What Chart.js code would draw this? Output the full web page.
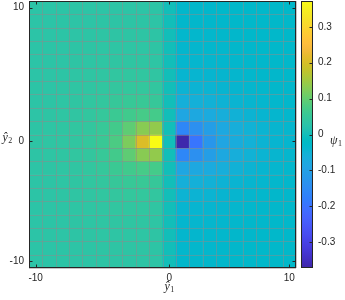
<!DOCTYPE html>
<html><head><meta charset="utf-8">
<script src="https://cdn.jsdelivr.net/npm/chart.js@4.4.0/dist/chart.umd.min.js"></script>
<style>html,body{margin:0;padding:0;background:#fff;}canvas{display:block;}</style>
</head><body>
<canvas id="c" width="345" height="300"></canvas>
<script>
// ---- data ----
const xTickIdx = [1, 11, 20];
const xTickLabels = ['-10', '0', '10'];
const yTickIdx = [1, 10, 20];
const yTickLabels = ['-10', '0', '10'];
const cbTicks = [-0.3, -0.2, -0.1, 0, 0.1, 0.2, 0.3];
const cbTickLabels = ['-0.3', '-0.2', '-0.1', '0', '0.1', '0.2', '0.3'];
const cLim = [-0.372, 0.372];
// psi_1 cell values, rows from top (y = 10) to bottom (y = -10), columns left to right
const psiRows = [
 [0.030,0.030,0.031,0.031,0.032,0.032,0.032,0.032,0.032,0.031, 0, -0.031,-0.031,-0.031,-0.030,-0.030,-0.029,-0.029,-0.028,-0.028],
 [0.030,0.030,0.031,0.032,0.032,0.033,0.033,0.033,0.033,0.032, 0, -0.032,-0.032,-0.032,-0.031,-0.030,-0.030,-0.029,-0.028,-0.028],
 [0.030,0.030,0.031,0.032,0.033,0.034,0.034,0.034,0.034,0.033, 0, -0.033,-0.033,-0.033,-0.032,-0.031,-0.030,-0.029,-0.029,-0.028],
 [0.030,0.031,0.032,0.033,0.034,0.035,0.035,0.035,0.035,0.034, 0, -0.035,-0.035,-0.034,-0.033,-0.032,-0.031,-0.030,-0.029,-0.029],
 [0.030,0.031,0.032,0.034,0.035,0.036,0.037,0.037,0.037,0.035, 0, -0.037,-0.037,-0.036,-0.035,-0.034,-0.032,-0.031,-0.030,-0.029],
 [0.030,0.032,0.033,0.035,0.036,0.038,0.040,0.040,0.040,0.038, 0, -0.041,-0.041,-0.040,-0.038,-0.036,-0.034,-0.032,-0.031,-0.030],
 [0.031,0.032,0.034,0.036,0.038,0.041,0.044,0.045,0.045,0.042, 0, -0.048,-0.047,-0.045,-0.042,-0.039,-0.036,-0.034,-0.032,-0.031],
 [0.031,0.033,0.035,0.037,0.040,0.044,0.050,0.053,0.054,0.050, 0, -0.060,-0.058,-0.054,-0.049,-0.044,-0.040,-0.037,-0.034,-0.032],
 [0.032,0.034,0.036,0.038,0.042,0.048,0.058,0.066,0.072,0.070, 0, -0.085,-0.080,-0.072,-0.062,-0.053,-0.046,-0.041,-0.037,-0.034],
 [0.033,0.035,0.037,0.040,0.044,0.052,0.068,0.095,0.130,0.138, 0, -0.160,-0.140,-0.105,-0.080,-0.063,-0.052,-0.045,-0.040,-0.036],
 [0.034,0.036,0.038,0.041,0.046,0.056,0.078,0.120,0.205,0.372, 0, -0.368,-0.195,-0.125,-0.088,-0.068,-0.055,-0.047,-0.041,-0.037],
 [0.033,0.035,0.037,0.040,0.044,0.052,0.068,0.095,0.130,0.138, 0, -0.160,-0.140,-0.105,-0.080,-0.063,-0.052,-0.045,-0.040,-0.036],
 [0.032,0.034,0.036,0.038,0.042,0.048,0.058,0.066,0.072,0.070, 0, -0.085,-0.080,-0.072,-0.062,-0.053,-0.046,-0.041,-0.037,-0.034],
 [0.031,0.033,0.035,0.037,0.040,0.044,0.050,0.053,0.054,0.050, 0, -0.060,-0.058,-0.054,-0.049,-0.044,-0.040,-0.037,-0.034,-0.032],
 [0.031,0.032,0.034,0.036,0.038,0.041,0.044,0.045,0.045,0.042, 0, -0.048,-0.047,-0.045,-0.042,-0.039,-0.036,-0.034,-0.032,-0.031],
 [0.030,0.032,0.033,0.035,0.036,0.038,0.040,0.040,0.040,0.038, 0, -0.041,-0.041,-0.040,-0.038,-0.036,-0.034,-0.032,-0.031,-0.030],
 [0.030,0.031,0.032,0.034,0.035,0.036,0.037,0.037,0.037,0.035, 0, -0.037,-0.037,-0.036,-0.035,-0.034,-0.032,-0.031,-0.030,-0.029],
 [0.030,0.031,0.032,0.033,0.034,0.035,0.035,0.035,0.035,0.034, 0, -0.035,-0.035,-0.034,-0.033,-0.032,-0.031,-0.030,-0.029,-0.029],
 [0.030,0.030,0.031,0.032,0.033,0.034,0.034,0.034,0.034,0.033, 0, -0.033,-0.033,-0.033,-0.032,-0.031,-0.030,-0.029,-0.029,-0.028],
 [0.030,0.030,0.031,0.032,0.032,0.033,0.033,0.033,0.033,0.032, 0, -0.032,-0.032,-0.032,-0.031,-0.030,-0.030,-0.029,-0.028,-0.028]
];

// ---- colormap (parula, 64 entries) ----
const parula = [
[0.2422,0.1504,0.6603],[0.2504,0.1650,0.7076],[0.2578,0.1818,0.7511],[0.2647,0.1978,0.7952],
[0.2706,0.2147,0.8364],[0.2751,0.2342,0.8710],[0.2783,0.2559,0.8991],[0.2803,0.2782,0.9221],
[0.2813,0.3006,0.9414],[0.2810,0.3228,0.9579],[0.2795,0.3447,0.9717],[0.2760,0.3667,0.9829],
[0.2699,0.3892,0.9906],[0.2602,0.4123,0.9952],[0.2440,0.4358,0.9988],[0.2206,0.4603,0.9973],
[0.1963,0.4847,0.9892],[0.1834,0.5074,0.9798],[0.1786,0.5289,0.9682],[0.1764,0.5499,0.9520],
[0.1687,0.5703,0.9359],[0.1540,0.5902,0.9218],[0.1460,0.6091,0.9079],[0.1380,0.6276,0.8973],
[0.1248,0.6459,0.8883],[0.1113,0.6635,0.8763],[0.0952,0.6798,0.8598],[0.0689,0.6948,0.8394],
[0.0297,0.7082,0.8163],[0.0036,0.7203,0.7917],[0.0067,0.7312,0.7660],[0.0433,0.7411,0.7394],
[0.0964,0.7500,0.7120],[0.1408,0.7584,0.6842],[0.1717,0.7670,0.6554],[0.1938,0.7758,0.6251],
[0.2161,0.7843,0.5923],[0.2470,0.7918,0.5567],[0.2906,0.7973,0.5188],[0.3406,0.8008,0.4789],
[0.3909,0.8029,0.4354],[0.4456,0.8024,0.3909],[0.5044,0.7993,0.3480],[0.5616,0.7942,0.3045],
[0.6174,0.7876,0.2612],[0.6720,0.7793,0.2227],[0.7242,0.7698,0.1910],[0.7738,0.7598,0.1646],
[0.8203,0.7498,0.1535],[0.8634,0.7406,0.1596],[0.9035,0.7330,0.1774],[0.9393,0.7288,0.2100],
[0.9728,0.7298,0.2394],[0.9956,0.7434,0.2371],[0.9970,0.7659,0.2199],[0.9952,0.7893,0.2028],
[0.9892,0.8136,0.1885],[0.9786,0.8386,0.1766],[0.9676,0.8639,0.1643],[0.9610,0.8890,0.1537],
[0.9597,0.9135,0.1423],[0.9628,0.9373,0.1265],[0.9691,0.9606,0.1064],[0.9769,0.9839,0.0805]];

function rgbAt(t) {
  t = Math.max(0, Math.min(1, t));
  const f = t * 63, i = Math.min(62, Math.floor(f)), w = f - i;
  const a = parula[i], b = parula[i + 1];
  const c = a.map((x, k) => Math.round(255 * (x + (b[k] - x) * w)));
  return 'rgb(' + c[0] + ',' + c[1] + ',' + c[2] + ')';
}
function colorFor(v) { return rgbAt((v - cLim[0]) / (cLim[1] - cLim[0])); }

const nRows = psiRows.length, nCols = psiRows[0].length;

const datasets = psiRows.map((row, r) => {
  const iy = nRows - r;
  return {
    data: row.map((v, c) => ({x: c + 1, y: [iy - 0.5, iy + 0.5]})),
    backgroundColor: row.map(colorFor),
    borderWidth: 0, grouped: false, barPercentage: 1, categoryPercentage: 1,
    xAxisID: 'x', yAxisID: 'y'
  };
});

const ink = '#262626';
const tickFont = {family: '"Liberation Sans", Arial, Helvetica, sans-serif', size: 10};
const gridCol = 'rgba(140,140,140,0.5)';
function noPad(s) { s.paddingTop = 0; s.paddingBottom = 0; s.paddingLeft = 0; s.paddingRight = 0; }

// cell edge lines, drawn over the cells through the chart's scales
const cellGrid = {
  id: 'cellGrid',
  afterDatasetsDraw(chart) {
    const ctx = chart.ctx, a = chart.chartArea, sx = chart.scales.x, sy = chart.scales.y;
    ctx.save();
    ctx.strokeStyle = gridCol; ctx.lineWidth = 1;
    ctx.beginPath();
    for (let i = 0; i <= nCols; i++) {
      const px = Math.round(sx.getPixelForValue(i + 0.5)) + 0.5;
      ctx.moveTo(px, a.top); ctx.lineTo(px, a.bottom);
    }
    for (let i = 0; i <= nRows; i++) {
      const py = Math.round(sy.getPixelForValue(i + 0.5)) + 0.5;
      ctx.moveTo(a.left, py); ctx.lineTo(a.right, py);
    }
    ctx.stroke();
    ctx.restore();
  }
};

const deco = {
  id: 'deco',
  afterDraw(chart) {
    const ctx = chart.ctx, a = chart.chartArea;
    const sx = chart.scales.x, sy = chart.scales.y, cb = chart.scales.cb;
    ctx.save();
    ctx.strokeStyle = ink; ctx.lineWidth = 1;
    const L = Math.round(a.left) + 0.5, R = Math.round(a.right) - 0.5;
    const T = Math.round(a.top) + 0.5, B = Math.round(a.bottom) - 0.5;
    ctx.strokeRect(L, T, R - L, B - T);
    const tl = 3;
    ctx.beginPath();
    xTickIdx.forEach(v => {
      const px = Math.round(sx.getPixelForValue(v)) + 0.5;
      ctx.moveTo(px, B); ctx.lineTo(px, B - tl);
      ctx.moveTo(px, T); ctx.lineTo(px, T + tl);
    });
    yTickIdx.forEach(v => {
      const py = Math.round(sy.getPixelForValue(v)) + 0.5;
      ctx.moveTo(L, py); ctx.lineTo(L + tl, py);
      ctx.moveTo(R, py); ctx.lineTo(R - tl, py);
    });
    ctx.stroke();

    // colorbar
    const x0 = Math.round(cb.left) + 5, w = 12;
    const yTop = cb.getPixelForValue(cLim[1]), yBot = cb.getPixelForValue(cLim[0]);
    const g = ctx.createLinearGradient(0, yBot, 0, yTop);
    for (let i = 0; i <= 63; i++) g.addColorStop(i / 63, rgbAt(i / 63));
    ctx.fillStyle = g;
    ctx.fillRect(x0, yTop, w, yBot - yTop);
    ctx.strokeRect(x0 + 0.5, Math.round(yTop) + 0.5, w - 1, Math.round(yBot - yTop) - 1);
    ctx.beginPath();
    cbTicks.forEach(v => {
      const py = Math.round(cb.getPixelForValue(v)) + 0.5;
      ctx.moveTo(x0 + w - 0.5, py); ctx.lineTo(x0 + w - 0.5 - tl, py);
    });
    ctx.stroke();

    // axis labels
    ctx.fillStyle = ink;
    ctx.textBaseline = 'alphabetic';
    const serifI = 'italic 12px "Liberation Serif", "DejaVu Serif", serif';
    const serifS = '8px "Liberation Serif", "DejaVu Serif", serif';
    function sub(main, s, x, y, align) {
      ctx.font = serifI; const w1 = ctx.measureText(main).width;
      ctx.font = serifS; const w2 = ctx.measureText(s).width;
      let sx0 = x;
      if (align === 'center') sx0 = x - (w1 + w2) / 2;
      ctx.font = serifI; ctx.textAlign = 'left'; ctx.fillText(main, sx0, y);
      ctx.font = serifS; ctx.fillText(s, sx0 + w1 + 0.5, y + 2);
    }
    sub('\u0177', '1', sx.getPixelForValue(11), 290, 'center');
    sub('\u0177', '2', 2.5, 141, 'left');
    sub('\u03C8', '1', 330, 144, 'left');
    ctx.restore();
  }
};

new Chart(document.getElementById('c'), {
  type: 'bar',
  data: {datasets},
  plugins: [cellGrid, deco],
  options: {
    responsive: false, animation: false, devicePixelRatio: 1,
    layout: {padding: {top: 1, left: 0, right: 0, bottom: 0}},
    plugins: {legend: {display: false}, tooltip: {enabled: false}},
    scales: {
      x: {
        type: 'linear', position: 'bottom', min: 0.5, max: 20.5, offset: false,
        grid: {display: false, drawTicks: false, offset: false}, border: {display: false},
        afterBuildTicks: s => { s.ticks = xTickIdx.map(v => ({value: v})); },
        ticks: {autoSkip: false, maxRotation: 0, padding: 4, color: ink, font: tickFont,
                callback: (v, i) => xTickLabels[i]},
        afterFit: s => { s.height = 32; noPad(s); }
      },
      y: {
        type: 'linear', position: 'left', min: 0.5, max: 20.5, stacked: false, offset: false,
        grid: {display: false, drawTicks: false}, border: {display: false},
        afterBuildTicks: s => { s.ticks = yTickIdx.map(v => ({value: v})); },
        ticks: {autoSkip: false, padding: 5, color: ink, font: tickFont,
                callback: (v, i) => yTickLabels[i]},
        afterFit: s => { s.width = 29; noPad(s); }
      },
      cb: {
        type: 'linear', position: 'right', min: cLim[0], max: cLim[1], offset: false,
        grid: {display: false, drawTicks: false}, border: {display: false},
        afterBuildTicks: s => { s.ticks = cbTicks.map(v => ({value: v})); },
        ticks: {autoSkip: false, padding: 22, color: ink, font: tickFont,
                callback: (v, i) => cbTickLabels[i]},
        afterFit: s => { s.width = 49; noPad(s); }
      }
    }
  }
});
</script>
</body></html>
